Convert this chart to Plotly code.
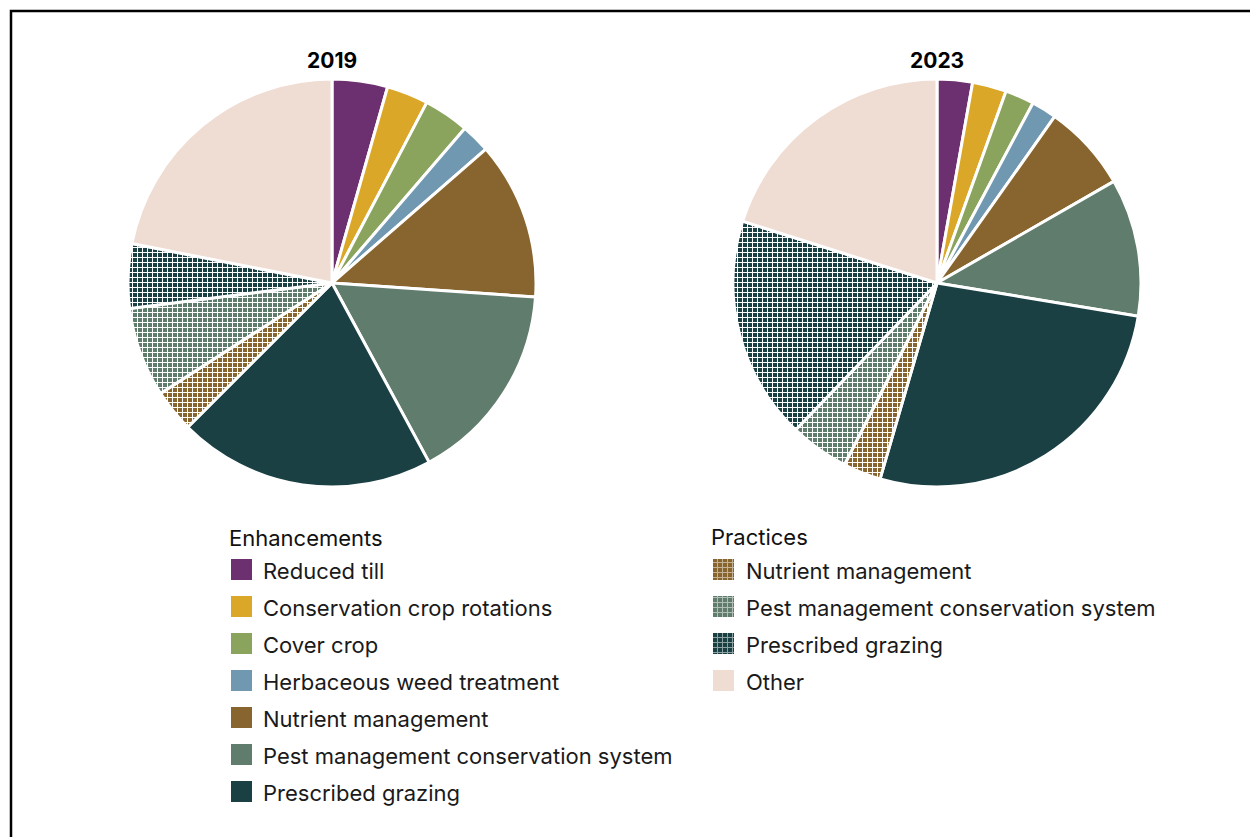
import plotly.graph_objects as go

# Slice categories, clockwise from 12 o'clock
enhancements = [
    "Reduced till",
    "Conservation crop rotations",
    "Cover crop",
    "Herbaceous weed treatment",
    "Nutrient management",
    "Pest management conservation system",
    "Prescribed grazing",
]
practices = [
    "Nutrient management",
    "Pest management conservation system",
    "Prescribed grazing",
]
other_label = "Other"

# Shares (%) by year, same order: enhancements, practices, other
values_2019 = [4.4, 3.3, 3.6, 2.3, 12.5, 16.0, 20.4, 3.4, 7.1, 5.1, 21.9]
values_2023 = [2.8, 2.7, 2.3, 2.0, 6.9, 10.9, 26.9, 3.0, 4.7, 17.7, 20.1]
years = ["2019", "2023"]

enh_colors = ["#6c2f6f", "#dba729", "#8aa35d", "#7198b1",
              "#88652e", "#607c6d", "#1b4044"]
prac_colors = ["#88652e", "#607c6d", "#1b4044"]
other_color = "#efdcd2"

W, H = 1250, 837
FONT = "Inter"
TEXT_COLOR = "#1a1a1a"

slice_labels = ([f"{c} (enhancement)" for c in enhancements]
                + [f"{c} (practice)" for c in practices] + [other_label])
slice_colors = enh_colors + prac_colors + [other_color]
slice_shapes = [""] * len(enhancements) + ["+"] * len(practices) + [""]

# White grid hatch used for the "practices" categories
PATTERN = dict(size=5, solidity=0.36, fgcolor="white")

fig = go.Figure()

# Pie geometry in pixels: centre x, centre y, radius
pies = [(332, 283, 204), (937, 283, 204)]
for year, vals, (cx, cy, r) in zip(years, [values_2019, values_2023], pies):
    fig.add_trace(go.Pie(
        labels=slice_labels,
        values=vals,
        sort=False,
        direction="clockwise",
        rotation=0,
        textinfo="none",
        hoverinfo="label+percent",
        showlegend=False,
        marker=dict(
            colors=slice_colors,
            line=dict(color="white", width=3),
            pattern=dict(shape=slice_shapes, bgcolor=slice_colors, **PATTERN),
        ),
        domain=dict(x=[(cx - r) / W, (cx + r) / W],
                    y=[1 - (cy + r) / H, 1 - (cy - r) / H]),
    ))
    fig.add_annotation(
        text=f"<b>{year}</b>", xref="paper", yref="paper",
        x=cx / W, y=1 - 60 / H, xanchor="center", yanchor="middle",
        showarrow=False, font=dict(family=FONT, size=21, color="#000"),
    )

# Legend: two columns drawn on a hidden pixel-scaled axis
SW = 21          # swatch size
ROW = 37         # row spacing
FIRST_ROW = 569.5
columns = [
    dict(title="Enhancements", x0=231, tx=261, ty=538,
         names=enhancements, colors=enh_colors,
         shapes=[""] * len(enhancements)),
    dict(title="Practices", x0=713, tx=744, ty=537,
         names=practices + [other_label], colors=prac_colors + [other_color],
         shapes=["+"] * len(practices) + [""]),
]
for col in columns:
    n = len(col["names"])
    ys = [FIRST_ROW + i * ROW for i in range(n)]
    fig.add_trace(go.Bar(
        orientation="h", y=ys, x=[SW] * n, base=[col["x0"]] * n, width=SW,
        marker=dict(color=col["colors"], line=dict(width=0),
                    pattern=dict(shape=col["shapes"], bgcolor=col["colors"],
                                 **PATTERN)),
        hoverinfo="skip", showlegend=False,
    ))
    fig.add_annotation(
        text=col["title"], x=col["x0"] - 4, y=col["ty"], xref="x", yref="y",
        xanchor="left", yanchor="middle", showarrow=False,
        font=dict(family=FONT, size=22, color="#111"),
    )
    for name, y in zip(col["names"], ys):
        fig.add_annotation(
            text=name, x=col["tx"], y=y + 1.5, xref="x", yref="y",
            xanchor="left", yanchor="middle", showarrow=False,
            font=dict(family=FONT, size=22, color=TEXT_COLOR),
        )

# Frame
fig.add_shape(type="rect", xref="paper", yref="paper",
              x0=11 / W, x1=1.02, y0=-0.02, y1=1 - 11 / H,
              line=dict(color="black", width=2.5), fillcolor="rgba(0,0,0,0)")

fig.update_layout(
    width=W, height=H,
    margin=dict(l=0, r=0, t=0, b=0),
    paper_bgcolor="white", plot_bgcolor="rgba(0,0,0,0)",
    xaxis=dict(range=[0, W], visible=False, fixedrange=True),
    yaxis=dict(range=[H, 0], visible=False, fixedrange=True),
    barmode="overlay",
    bargap=0,
)

fig.write_html("out.html")
